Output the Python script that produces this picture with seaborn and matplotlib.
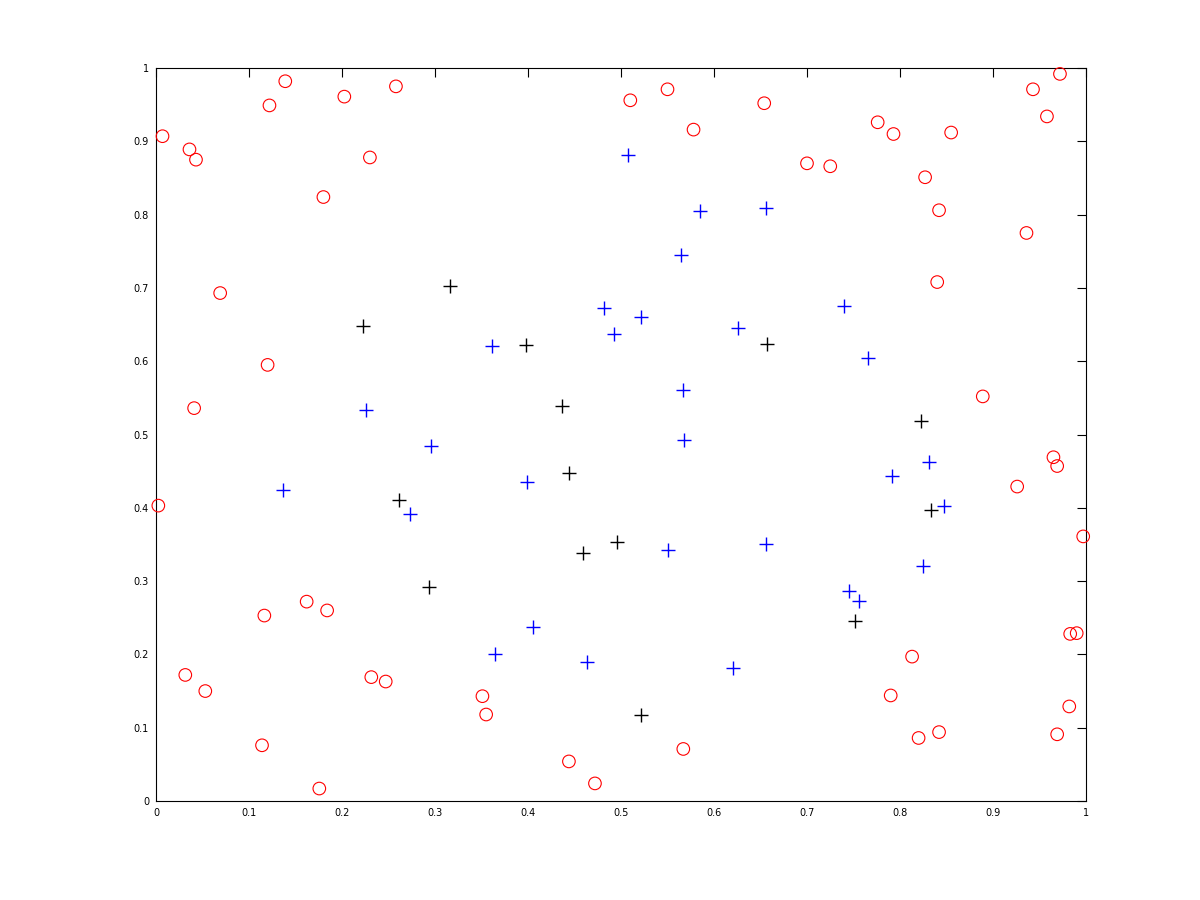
import matplotlib
matplotlib.use("Agg")
import matplotlib.pyplot as plt
import seaborn as sns
import pandas as pd

# red circles
circle_x = [0.007, 0.036, 0.043, 0.122, 0.139, 0.2025, 0.258, 0.230, 0.180, 0.069,
            0.120, 0.041, 0.510, 0.550, 0.578, 0.654, 0.700, 0.725, 0.776, 0.793,
            0.855, 0.827, 0.842, 0.943, 0.972, 0.958, 0.936, 0.840, 0.889, 0.0025,
            0.0315, 0.053, 0.1165, 0.114, 0.162, 0.184, 0.1756, 0.2315, 0.247, 0.351,
            0.355, 0.444, 0.472, 0.965, 0.969, 0.926, 0.997, 0.983, 0.990, 0.813,
            0.790, 0.982, 0.820, 0.842, 0.969, 0.567]
circle_y = [0.907, 0.889, 0.875, 0.949, 0.982, 0.961, 0.975, 0.878, 0.824, 0.693,
            0.595, 0.536, 0.956, 0.971, 0.916, 0.952, 0.870, 0.866, 0.926, 0.910,
            0.912, 0.851, 0.806, 0.971, 0.992, 0.934, 0.775, 0.708, 0.552, 0.403,
            0.172, 0.150, 0.253, 0.076, 0.272, 0.260, 0.017, 0.169, 0.163, 0.143,
            0.118, 0.054, 0.024, 0.469, 0.457, 0.429, 0.361, 0.228, 0.229, 0.197,
            0.144, 0.129, 0.086, 0.094, 0.091, 0.071]

# blue pluses
blue_x = [0.361, 0.482, 0.4925, 0.2255, 0.508, 0.585, 0.656, 0.564, 0.521, 0.626,
          0.740, 0.766, 0.567, 0.137, 0.296, 0.2735, 0.399, 0.405, 0.364, 0.463,
          0.568, 0.831, 0.791, 0.847, 0.551, 0.656, 0.825, 0.7455, 0.7556, 0.620]
blue_y = [0.621, 0.673, 0.6375, 0.533, 0.882, 0.805, 0.8085, 0.7445, 0.661, 0.646,
          0.676, 0.604, 0.561, 0.424, 0.484, 0.392, 0.435, 0.238, 0.200, 0.189,
          0.493, 0.462, 0.443, 0.402, 0.343, 0.350, 0.320, 0.287, 0.273, 0.182]

# black pluses
black_x = [0.316, 0.223, 0.3975, 0.4366, 0.657, 0.823, 0.2616, 0.444, 0.459, 0.496,
           0.294, 0.833, 0.752, 0.522]
black_y = [0.703, 0.648, 0.622, 0.539, 0.624, 0.518, 0.411, 0.447, 0.338, 0.354,
           0.2915, 0.397, 0.245, 0.117]

circles = pd.DataFrame({"x": circle_x, "y": circle_y})
blues = pd.DataFrame({"x": blue_x, "y": blue_y})
blacks = pd.DataFrame({"x": black_x, "y": black_y})

sns.set_style("white")
plt.rcParams["font.family"] = ["DejaVu Sans"]

fig = plt.figure(figsize=(12, 9), dpi=100)
ax = fig.add_axes([0.13, 0.11, 0.775, 0.8144])

sns.scatterplot(data=circles, x="x", y="y", marker="o", s=82, facecolors="none",
                edgecolor="red", linewidth=0.8, clip_on=False, ax=ax, zorder=3)
sns.scatterplot(data=blues, x="x", y="y", marker="+", s=105, color="blue",
                linewidth=1.0, clip_on=False, ax=ax, zorder=3)
sns.scatterplot(data=blacks, x="x", y="y", marker="+", s=105, color="black",
                linewidth=1.0, clip_on=False, ax=ax, zorder=3)

ax.set_xlim(0, 1)
ax.set_ylim(0, 1)
ticks = [0, 0.1, 0.2, 0.3, 0.4, 0.5, 0.6, 0.7, 0.8, 0.9, 1]
labels = ["0", "0.1", "0.2", "0.3", "0.4", "0.5", "0.6", "0.7", "0.8", "0.9", "1"]
ax.set_xticks(ticks)
ax.set_xticklabels(labels)
ax.set_yticks(ticks)
ax.set_yticklabels(labels)
ax.set_xlabel("")
ax.set_ylabel("")
ax.tick_params(direction="in", length=6.5, width=0.8, labelsize=7, colors="black",
               top=True, right=True, pad=5)
for sp in ax.spines.values():
    sp.set_visible(True)
    sp.set_color("black")
    sp.set_linewidth(0.8)

fig.savefig("out.png", dpi=100)
